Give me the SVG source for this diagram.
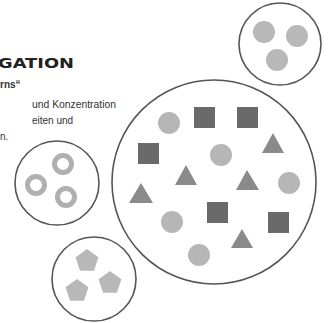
<svg xmlns="http://www.w3.org/2000/svg" width="332" height="323" viewBox="0 0 332 323">
<style>
.ring{fill:none;stroke:#555;stroke-width:1.6}
.c{fill:#b6b6b6}
.sq{fill:#6a6a6a}
.tri{fill:#8a8a8a}
.o{fill:none;stroke:#b0b0b0;stroke-width:5}
.p{fill:#b8b8b8}
.t{font-family:"Liberation Sans",Arial,sans-serif;font-size:10px;fill:#333}
.h{font-family:"DejaVu Sans",sans-serif;font-weight:bold;font-size:13.5px;fill:#222}
</style>
<rect width="332" height="323" fill="#fff"/>
<g id="text">
<text class="h" x="-2" y="68" textLength="76" lengthAdjust="spacingAndGlyphs">GATION</text>
<text class="t" x="0" y="88" font-weight="bold">rns“</text>
<text class="t" x="32" y="108" textLength="84" lengthAdjust="spacingAndGlyphs">und Konzentration</text>
<text class="t" x="32" y="124">eiten und</text>
<text class="t" x="0" y="140">n.</text>
</g>
<g id="connectors"></g>
<g id="cluster-top-right">
<circle class="ring" cx="280" cy="44" r="41"/>
<circle class="p" cx="264" cy="32" r="11"/>
<circle class="p" cx="297" cy="36" r="11"/>
<circle class="p" cx="277" cy="60" r="11"/>
</g>
<g id="cluster-rings">
<circle class="ring" cx="57" cy="183" r="42"/>
<circle class="o" cx="63" cy="164" r="8.5"/>
<circle class="o" cx="36" cy="185" r="8.5"/>
<circle class="o" cx="66" cy="197" r="8.5"/>
</g>
<g id="cluster-pentagons">
<circle class="ring" cx="94" cy="279" r="42"/>
<polygon class="p" points="87,249 98.4,257.3 94,270.7 80,270.7 75.6,257.3"/>
<polygon class="p" points="77,279 88.4,287.3 84,300.7 70,300.7 65.6,287.3"/>
<polygon class="p" points="110,271 121.4,279.3 117,292.7 103,292.7 98.6,279.3"/>
</g>
<g id="cluster-main">
<circle class="ring" cx="214" cy="182" r="102"/>
<circle class="c" cx="169" cy="123" r="11"/>
<circle class="c" cx="221" cy="155" r="11"/>
<circle class="c" cx="289" cy="183" r="11"/>
<circle class="c" cx="172" cy="222" r="11"/>
<circle class="c" cx="199" cy="255" r="11"/>
<rect class="sq" x="194" y="107" width="21" height="21"/>
<rect class="sq" x="237" y="107" width="21" height="21"/>
<rect class="sq" x="138" y="143" width="21" height="21"/>
<rect class="sq" x="207" y="202" width="21" height="21"/>
<rect class="sq" x="268" y="212" width="21" height="21"/>
<polygon class="tri" points="273,133 284,153 262,153"/>
<polygon class="tri" points="186,165 197,185 175,185"/>
<polygon class="tri" points="247,170 259,190 236,190"/>
<polygon class="tri" points="141,183 153,203 129,203"/>
<polygon class="tri" points="242,229 253,248 231,248"/>
</g>
</svg>
